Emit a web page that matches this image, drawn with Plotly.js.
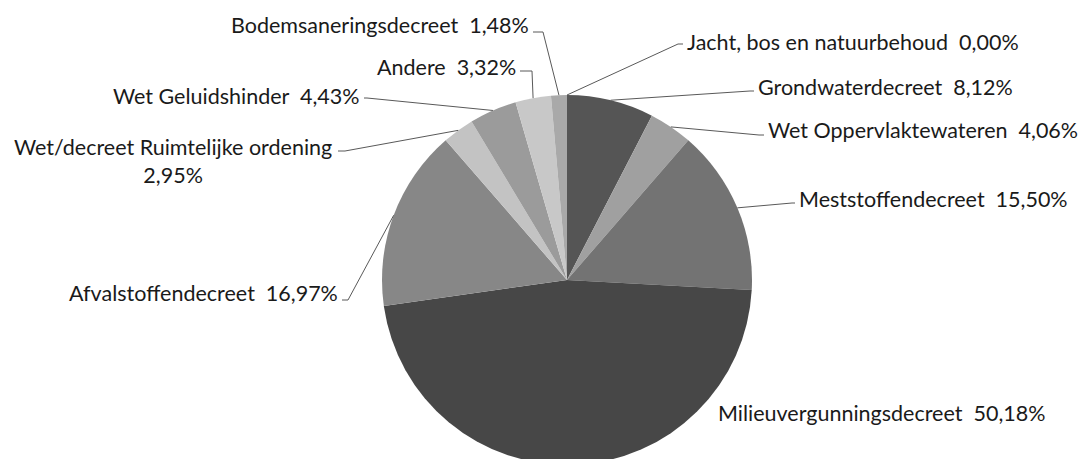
<!DOCTYPE html>
<html>
<head>
<meta charset="utf-8">
<script src="https://cdn.plot.ly/plotly-3.0.1.min.js"></script>
<style>
html,body{margin:0;padding:0;background:#fff;overflow:hidden;}
#chart{width:1078px;height:470px;}
</style>
</head>
<body>
<div id="chart"></div>
<script>
// ---- data ----
const categories = [
  "Jacht, bos en natuurbehoud",
  "Grondwaterdecreet",
  "Wet Oppervlaktewateren",
  "Meststoffendecreet",
  "Milieuvergunningsdecreet",
  "Afvalstoffendecreet",
  "Wet/decreet Ruimtelijke ordening",
  "Wet Geluidshinder",
  "Andere",
  "Bodemsaneringsdecreet"
];
const percentages = [0.00, 8.12, 4.06, 15.50, 50.18, 16.97, 2.95, 4.43, 3.32, 1.48];
const percentLabels = ["0,00%", "8,12%", "4,06%", "15,50%", "50,18%", "16,97%", "2,95%", "4,43%", "3,32%", "1,48%"];
const sliceColors = ["#a9a9a9", "#555555", "#a0a0a0", "#737373", "#474747", "#878787", "#c3c3c3", "#9b9b9b", "#c8c8c8", "#a9a9a9"];

// ---- label layout (pixels): text anchor & leader elbow/end ----
const labelLayout = [
  {tx: 685, ty: 42, anchor: "left",  elbow: [678, 44], end: [683, 44]},
  {tx: 756, ty: 87, anchor: "left",  elbow: [750, 91], end: [754, 91]},
  {tx: 766, ty: 130, anchor: "left", elbow: [759, 135], end: [764, 135]},
  {tx: 797, ty: 199, anchor: "left", elbow: [792, 203], end: [795, 203]},
  {tx: 716, ty: 413, anchor: "left", elbow: null, end: null},
  {tx: 340, ty: 293, anchor: "right", elbow: [348, 300], end: [342, 300]},
  {tx: 334, ty: 161, anchor: "right", elbow: [345, 151], end: [338, 151], multiline: true},
  {tx: 362, ty: 96, anchor: "right", elbow: [367, 98], end: [364, 98]},
  {tx: 518, ty: 67, anchor: "right", elbow: [532, 71], end: [520, 71]},
  {tx: 531, ty: 25, anchor: "right", elbow: [543, 32], end: [533, 32]}
];

const W = 1078, H = 470;
const M = {l: 382, r: 326, t: 95, b: 5};
const PW = W - M.l - M.r, PH = H - M.t - M.b;
const cx = M.l + PW / 2, cy = M.t + PH / 2, R = Math.min(PW, PH) / 2;
const toPX = x => (x - M.l) / PW;
const toPY = y => (M.t + PH - y) / PH;

const total = percentages.reduce((a, b) => a + b, 0);
let cum = 0;
const shapes = [];
const annotations = [];
percentages.forEach((v, i) => {
  const a = 2 * Math.PI * (cum + v / 2) / total;
  cum += v;
  const ax = cx + R * Math.sin(a), ay = cy - R * Math.cos(a);
  const L = labelLayout[i];
  if (L.elbow) {
    shapes.push({
      type: "path", xref: "paper", yref: "paper",
      path: `M ${toPX(ax)} ${toPY(ay)} L ${toPX(L.elbow[0])} ${toPY(L.elbow[1])} L ${toPX(L.end[0])} ${toPY(L.end[1])}`,
      line: {color: "#595959", width: 1}
    });
  }
  const sep = L.multiline ? "<br>" : "\u00a0\u00a0";
  annotations.push({
    xref: "paper", yref: "paper", x: toPX(L.tx), y: toPY(L.ty),
    xanchor: L.anchor, yanchor: "middle", align: "center",
    showarrow: false,
    text: categories[i] + sep + percentLabels[i],
    font: {family: "Lato, sans-serif", size: 21.5, color: "#1a1a1a"}
  });
});

Plotly.newPlot("chart", [{
  type: "pie",
  labels: categories,
  values: percentages,
  sort: false,
  direction: "clockwise",
  rotation: 0,
  textinfo: "none",
  hoverinfo: "label+percent",
  marker: {colors: sliceColors, line: {width: 0}},
  showlegend: false
}], {
  width: W, height: H,
  margin: M,
  paper_bgcolor: "#ffffff",
  showlegend: false,
  shapes: shapes,
  annotations: annotations
}, {staticPlot: true});
</script>
</body>
</html>
